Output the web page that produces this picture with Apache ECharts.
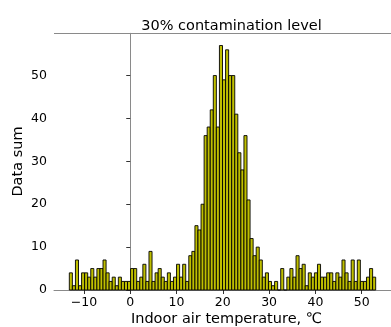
<!DOCTYPE html>
<html>
<head>
<meta charset="utf-8">
<script src="https://cdn.jsdelivr.net/npm/echarts@6/dist/echarts.min.js"></script>
<style>html,body{margin:0;padding:0;background:#fff;}#chart{width:391px;height:327px;}</style>
</head>
<body>
<div id="chart"></div>
<script>
// Histogram bin counts (100 bins)
const counts = [4,1,7,1,4,4,3,5,3,5, 5,7,4,2,3,1,3,2,2,2, 5,5,2,3,6,2,9,2,4,5, 3,2,4,2,3,6,3,6,2,8,
  9,15,14,20,36,38,42,50,38,57, 49,56,50,50,41,32,28,36,21,12, 8,10,7,3,4,2,1,2,0,5,
  0,3,5,3,8,5,6,1,4,3, 4,6,3,3,4,4,2,4,3,7, 4,2,7,2,7,2,2,3,5,3];
const binStart = -13.16;   // left edge of first bin, °C
const binEnd = 53.02;      // right edge of last bin, °C
const xTicks = [-10, 0, 10, 20, 30, 40, 50];
const yTicks = [0, 10, 20, 30, 40, 50];
const titleText = '30% contamination level';
const xLabel = 'Indoor air temperature, ℃';
const yLabel = 'Data sum';

const binW = (binEnd - binStart) / counts.length;
const span = binEnd - binStart;
const xMin = binStart - 0.05 * span, xMax = binEnd + 0.05 * span;
const yMax = Math.max(...counts) * 1.05;
const data = counts.map((c, i) => [binStart + i * binW, binStart + (i + 1) * binW, c]);

const FONT = 'DejaVu Sans';
const chart = echarts.init(document.getElementById('chart'), null, {renderer: 'canvas'});
const minus = v => String(v).replace('-', '\u2212');
chart.setOption({
  animation: false,
  backgroundColor: '#fff',
  title: {
    text: titleText, left: 226.5, top: 14, textAlign: 'center',
    textStyle: {fontFamily: FONT, fontSize: 14.5, fontWeight: 'normal', color: '#000'}
  },
  grid: {left: 54, right: -8, top: 33.3, bottom: 37, show: false},
  xAxis: {
    type: 'value', min: xMin, max: xMax,
    axisLine: {show: true, lineStyle: {color: '#8a8a8a', width: 1}},
    axisTick: {show: true, customValues: xTicks, length: 4, lineStyle: {color: '#333'}},
    axisLabel: {customValues: xTicks, formatter: minus, margin: 6, fontFamily: FONT, fontSize: 12.5, color: '#000'},
    splitLine: {show: false}
  },
  yAxis: {
    type: 'value', min: 0, max: yMax,
    axisLine: {show: true, lineStyle: {color: '#8a8a8a', width: 1}},
    axisTick: {show: true, customValues: yTicks, length: 4, lineStyle: {color: '#333'}},
    axisLabel: {customValues: yTicks, margin: 7, fontFamily: FONT, fontSize: 12.5, color: '#000'},
    splitLine: {show: false}
  },
  graphic: [
    {type: 'line', shape: {x1: 54, y1: 33.5, x2: 391, y2: 33.5}, style: {stroke: '#8a8a8a', lineWidth: 1}, z: 10},
    {type: 'text', x: 226.5, y: 319, style: {text: xLabel, fontFamily: FONT, fontSize: 14.5, fill: '#000', textAlign: 'center', textVerticalAlign: 'middle'}},
    {type: 'text', x: 18, y: 161.5, rotation: Math.PI / 2, style: {text: yLabel, fontFamily: FONT, fontSize: 14.5, fill: '#000', textAlign: 'center', textVerticalAlign: 'middle'}}
  ],
  series: [{
    type: 'custom',
    data: data,
    encode: {x: [0, 1], y: 2},
    renderItem: function (params, api) {
      const p0 = api.coord([api.value(0), api.value(2)]);
      const p1 = api.coord([api.value(1), 0]);
      return {
        type: 'rect',
        shape: {x: p0[0], y: p0[1], width: p1[0] - p0[0], height: p1[1] - p0[1]},
        style: {fill: '#bfbf00', stroke: '#000', lineWidth: 0.9}
      };
    }
  }]
});
</script>
</body>
</html>
